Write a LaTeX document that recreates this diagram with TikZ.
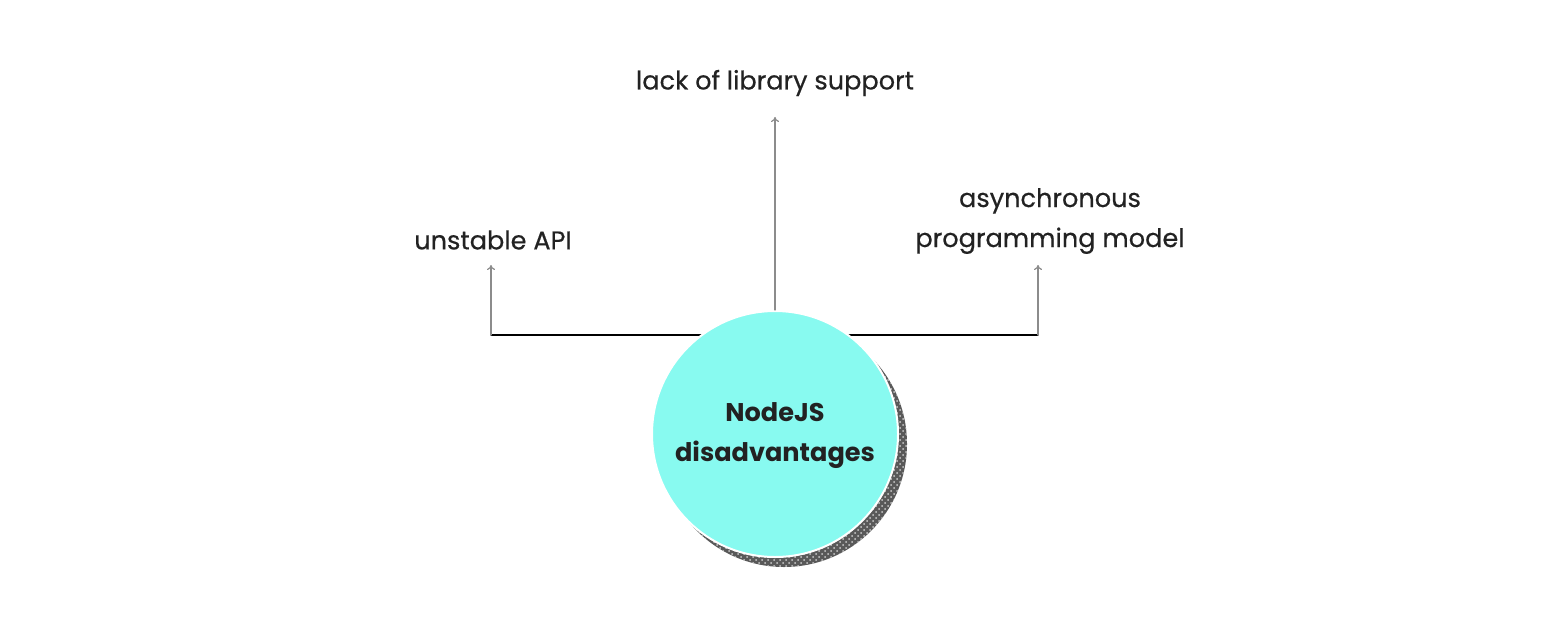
\documentclass[tikz,border=0pt]{standalone}
\usepackage{fontspec}
\setmainfont{Poppins}
\newfontfamily\lblfont{Poppins}[FakeBold=0.5]
\usepackage{tikz}
\usetikzlibrary{arrows}
\usetikzlibrary{arrows.meta}
\usetikzlibrary{patterns}
\definecolor{nodecyan}{HTML}{88FAF0}
\definecolor{txtdark}{HTML}{222222}
\begin{document}
\begin{tikzpicture}[line cap=round,line join=round,>={To[length=2.5pt,width=4pt]},x=0.5pt,y=-0.5pt,
  lbl/.style={text=txtdark,font=\lblfont\fontsize{12.8}{20}\selectfont,align=center},
  conn/.style={draw=black!45,line width=0.6pt}]
\useasboundingbox (0,0) rectangle (1551,626);
\coordinate (libtip) at (775,117);
\coordinate (apitip) at (491,265);
\coordinate (asynctip) at (1038,265);
\coordinate (lcorner) at (491,335);
\coordinate (rcorner) at (1038,335);
\draw [black,line width=0.6pt] (lcorner) -- (rcorner);
\fill[black!65] (784,444) circle (61.5pt);
\fill[pattern=crosshatch dots,pattern color=white!80!black] (784,444) circle (61.5pt);
\node[circle,fill=nodecyan,draw=white,line width=1pt,minimum size=123pt,inner sep=0pt] (nd) at (775,434) {};
\node[text=txtdark,font=\fontsize{12.8}{20}\selectfont\bfseries,align=center] (ndtxt) at (775,436) {NodeJS\\disadvantages};
\node[lbl] (lib) at (775,83) {lack of library support};
\node[lbl] (api) at (493,240) {unstable API};
\node[lbl] (async) at (1050,221) {asynchronous\\programming model};
\draw [conn,->] (nd.north) -- (libtip);
\draw [conn,->] (lcorner) -- (apitip);
\draw [conn,->] (rcorner) -- (asynctip);
\end{tikzpicture}
\end{document}
